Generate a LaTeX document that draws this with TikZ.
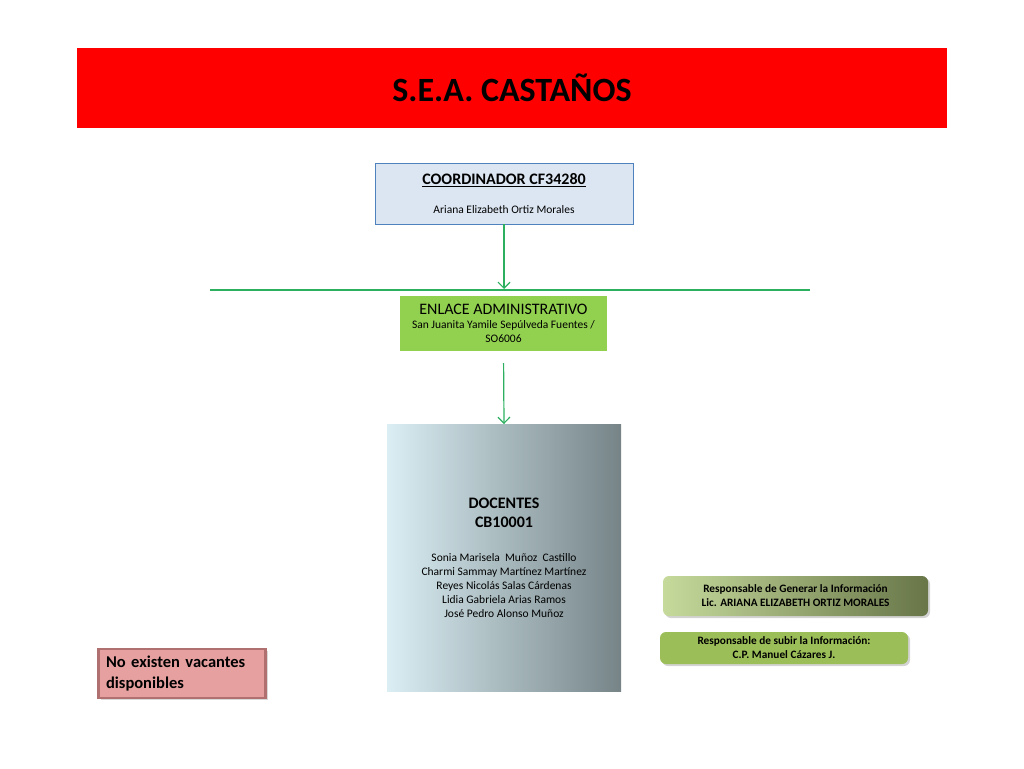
\documentclass[tikz,border=0pt]{standalone}
\usepackage{fontspec}
\setmainfont{Carlito}
\usetikzlibrary{arrows,arrows.meta,positioning,shadows}

\definecolor{titlered}{RGB}{255,0,0}
\definecolor{coordfill}{RGB}{220,230,242}
\definecolor{coordedge}{RGB}{79,129,189}
\definecolor{linkgreen}{RGB}{44,176,96}
\definecolor{enlacefill}{RGB}{146,208,80}
\definecolor{docleft}{RGB}{218,238,243}
\definecolor{docright}{RGB}{118,132,136}
\definecolor{respleft}{RGB}{198,218,156}
\definecolor{respright}{RGB}{104,118,72}
\definecolor{subirfill}{RGB}{155,190,88}
\definecolor{vacfill}{RGB}{230,160,160}
\definecolor{vacedge}{RGB}{176,112,112}

\begin{document}
\begin{tikzpicture}[x=1pt,y=-1pt,->,>={Straight Barb[length=6pt,width=12pt]},line width=1.2pt]
          \tikzstyle{every node}=[inner sep=0pt,outer sep=0pt]
          \tikzstyle{org box}=[minimum width=#1,align=center,font=\fontsize{11.5}{14}\selectfont]
          \tikzstyle{resp box}=[rounded corners=6pt,align=center,font=\fontsize{11.3}{14}\selectfont\bfseries,drop shadow={opacity=0.35,shadow xshift=2pt,shadow yshift=-2pt}]
          \useasboundingbox (0,0) rectangle (1024,768);

          \node[org box=870pt,minimum height=80pt,fill=titlered,font=\fontsize{34}{40}\selectfont\bfseries]
                (title)  at (512,88)    {S.E.A. CASTAÑOS};
          \node[org box=258pt,minimum height=61pt,fill=coordfill,draw=coordedge,line width=0.8pt]
                (coord)  at (504,193.5) {{\fontsize{16}{19}\selectfont\bfseries\underline{COORDINADOR CF34280}}\\[15pt]
                                         Ariana Elizabeth Ortiz Morales};
          \node[org box=207pt,minimum height=55pt,fill=enlacefill,text depth=0pt]
                (enlace) at (503.5,323.5) {{\fontsize{16}{19}\selectfont ENLACE ADMINISTRATIVO}\\[0pt]
                                         San Juanita Yamile Sepúlveda Fuentes /\\SO6006};
          \node[org box=234pt,minimum height=267pt,left color=docleft,right color=docright,text depth=0pt]
                (doc)    at (504,557.5) {{\fontsize{16}{19}\selectfont\bfseries DOCENTES}\\[5pt]
                                         {\fontsize{16}{19}\selectfont\bfseries CB10001}\\[20pt]
                                         Sonia Marisela\ \ Muñoz\ \ Castillo\\
                                         Charmi Sammay Martínez Martínez\\Reyes Nicolás Salas Cárdenas\\
                                         Lidia Gabriela Arias Ramos\\José Pedro Alonso Muñoz};

          \node[resp box,minimum width=265pt,minimum height=40pt,left color=respleft,right color=respright]
                (generar) at (795.5,596) {Responsable de Generar la Información\\Lic. ARIANA ELIZABETH ORTIZ MORALES};
          \node[resp box,minimum width=248pt,minimum height=32pt,fill=subirfill]
                (subir)   at (784,648)   {Responsable de subir la Información:\\C.P. Manuel Cázares J.};

          \node[minimum width=167pt,minimum height=49pt,fill=vacfill,draw=vacedge,line width=2.5pt,
                text width=152pt,align=left,font=\fontsize{16.5}{21}\selectfont\bfseries,
                drop shadow={opacity=0.3,shadow xshift=2pt,shadow yshift=-2pt}]
                (vacantes) at (182,673.5) {No existen vacantes\\disponibles};

          \coordinate (bus)  at (504,289);
          \coordinate (busL) at (210,290);
          \coordinate (busR) at (810,290);

          \draw[linkgreen] (coord.south) -- (bus);
          \draw[linkgreen,shorten <=12pt] (enlace.south) -- (doc.north);
          \draw[linkgreen,-] (busL) -- (busR);
        \end{tikzpicture}
\end{document}
